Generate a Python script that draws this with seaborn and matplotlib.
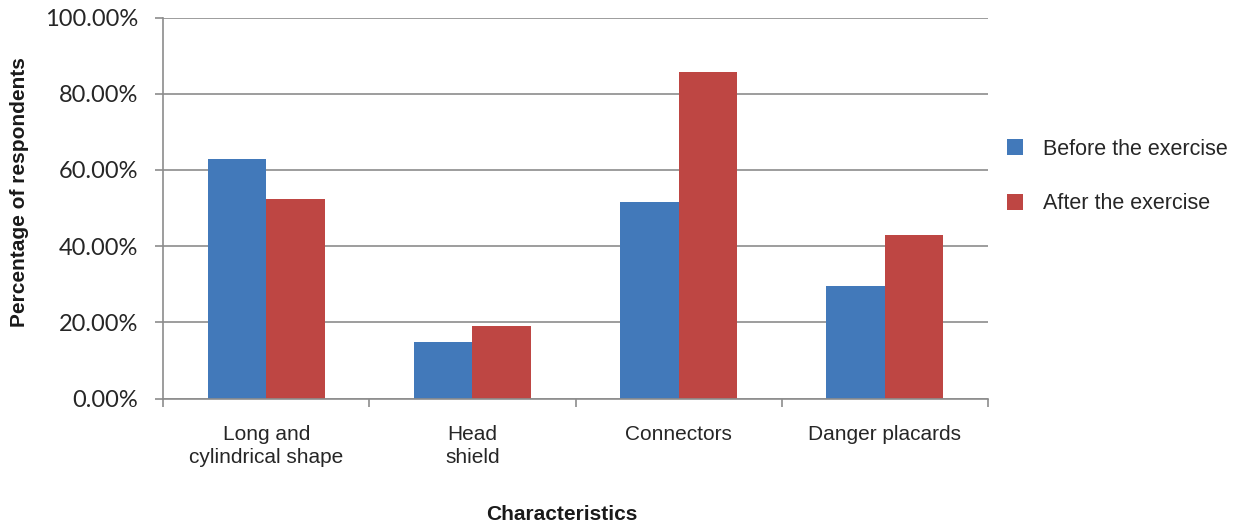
import pandas as pd
import seaborn as sns
import matplotlib.pyplot as plt
from matplotlib.ticker import PercentFormatter, FixedLocator

categories = ['Long and\ncylindrical shape', 'Head\nshield', 'Connectors', 'Danger placards']
before = [62.8, 14.7, 51.7, 29.5]
after = [52.4, 19.1, 85.7, 43.0]
series = ['Before the exercise', 'After the exercise']
colors = ['#4279BA', '#BE4643']

df = pd.DataFrame({
    'Characteristics': categories * 2,
    'value': before + after,
    'series': [series[0]] * 4 + [series[1]] * 4,
})

sns.set_style('white')
plt.rcParams['font.family'] = ['Liberation Sans', 'DejaVu Sans']

fig = plt.figure(figsize=(12.39, 5.24), dpi=100)
ax = fig.add_axes([163.3 / 1239, 1 - 398.5 / 524, 824.4 / 1239, 381 / 524])

sns.barplot(data=df, x='Characteristics', y='value', hue='series',
            palette=colors, saturation=1, width=0.57, linewidth=0, ax=ax, legend=True)

grey = '#8c8c8c'
ax.set_ylim(0, 100)
ax.set_xlim(-0.5, 3.5)
ax.set_yticks([0, 20, 40, 60, 80, 100])
ax.yaxis.set_major_formatter(PercentFormatter(decimals=2))
ax.grid(axis='y', color=grey, linewidth=1.2)
ax.set_axisbelow(True)

for s in ['top', 'right']:
    ax.spines[s].set_visible(False)
for s in ['left', 'bottom']:
    ax.spines[s].set_color(grey)
    ax.spines[s].set_linewidth(1.2)

ax.tick_params(axis='y', which='major', left=True, length=6, width=1.2, color=grey,
               pad=12, labelsize=17, labelcolor='#262626', labelfontfamily='Lato')

ax.xaxis.set_minor_locator(FixedLocator([-0.5, 0.5, 1.5, 2.5, 3.5]))
ax.tick_params(axis='x', which='minor', bottom=True, length=6, width=1.2, color=grey)
ax.tick_params(axis='x', which='major', bottom=True, length=0, pad=19,
               labelsize=15, labelcolor='#262626')
for lab in ax.get_xticklabels():
    lab.set_linespacing(1.3)

ax.set_ylabel('Percentage of respondents', fontsize=15, fontweight='bold', color='#1a1a1a')
ax.yaxis.set_label_coords(-0.163, 0.541)
ax.set_xlabel('Characteristics', fontsize=15, fontweight='bold', color='#1a1a1a')
ax.xaxis.set_label_coords(0.483, -0.279)

handles, labels = ax.get_legend_handles_labels()
ax.legend(handles, labels, loc='center left', bbox_to_anchor=(1007 / 1239, 1 - 176.5 / 524),
          bbox_transform=fig.transFigure, frameon=False, fontsize=15.5,
          handlelength=0.75, handleheight=0.75, handletextpad=0.9,
          labelspacing=1.55, borderpad=0, borderaxespad=0, labelcolor='#262626')

plt.savefig('out.png', dpi=100)
